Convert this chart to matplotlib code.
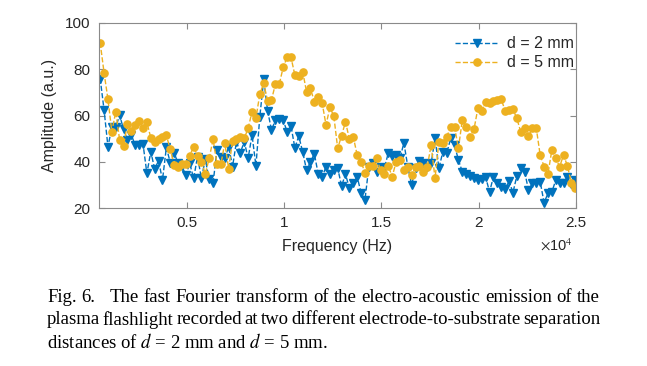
import numpy as np
import matplotlib
matplotlib.use("Agg")
import matplotlib.pyplot as plt

# ---------------- data ----------------
freq = 560 + 200 * np.arange(123)  # FFT bin frequencies (Hz)

amp_d2 = [76, 62.4, 46.5, 54.9, 54.9, 60.2, 54, 49.4, 51.6, 47.2,
          47.2, 47.7, 35, 44.3, 36.9, 40.5, 32, 46.2, 39.6, 43.9,
          39.3, 38, 34.3, 39.3, 32.8, 42.2, 32.8, 41, 32.4, 30.9,
          45.1, 42.2, 41.5, 46.5, 37.9, 48.7, 43.9, 48.7, 41.5, 51.6,
          38.2, 59.5, 75.6, 62.1, 53.7, 58, 58.4, 58, 53, 55.5,
          46, 51.1, 44.3, 36.4, 40, 43.4, 34.7, 33.3, 37.9, 34.7,
          36.4, 37.2, 29.5, 34.7, 28.5, 30.7, 33.5, 26.6, 23.5, 37.9,
          39.6, 35.7, 37.9, 37.2, 43.9, 42.5, 42.9, 41.5, 48.2, 37.9,
          30, 37.2, 40.5, 39.3, 37.9, 39.3, 50.1, 37.2, 44.3, 43.6,
          50.1, 47.2, 40.8, 35.7, 34.7, 33.8, 32.8, 32, 32.4, 33.3,
          27, 33.5, 30.7, 29.2, 28.1, 31.8, 26.6, 33.8, 37.2, 35.7,
          27.8, 30.7, 30.9, 31.4, 22.3, 26.3, 27, 32, 30.7, 30.9,
          33.5, 30.4, 32]

amp_d5 = [91.5, 78.5, 67, 53, 61.6, 49.4, 47, 56.3, 53.3, 55.8,
          57.8, 54.5, 57, 50.4, 48.7, 49.7, 50.6, 51.4, 45.4, 38.6,
          37.9, 39, 39, 42.6, 46.5, 42.6, 40, 34.7, 41.5, 49.7,
          39, 39, 48, 37, 49.1, 49.8, 50.6, 50.1, 54.5, 61.6,
          58.8, 69.3, 73.9, 66.4, 66.7, 73.6, 73.6, 80.8, 85.2, 85.2,
          77.5, 77.1, 79, 70.3, 71.7, 66, 67.9, 65.5, 55.9, 63.5,
          59.8, 45.8, 51.3, 57.3, 49.8, 50.8, 42.9, 40, 35.3, 38.2,
          38.2, 41.5, 36.4, 34.7, 38.2, 33.5, 40, 40.8, 36.4, 37.9,
          34.3, 37.6, 38.2, 35.7, 37.9, 47.2, 32.8, 48.7, 48.2, 50.6,
          55.2, 55.2, 45.8, 58, 55.2, 50.8, 54, 63.1, 62.1, 66,
          65.3, 66.4, 66.7, 67, 62.1, 62.4, 62.7, 58.8, 53, 54.5,
          51.1, 54.5, 54.5, 42.9, 37.9, 34.7, 45.1, 41.5, 37.9, 42.9,
          38.2, 30.9, 28.5]

series_labels = ["d = 2 mm", "d = 5 mm"]
x_ticks = [5000, 10000, 15000, 20000, 25000]
x_ticklabels = ["0.5", "1", "1.5", "2", "2.5"]
y_ticks = [20, 40, 60, 80, 100]

caption_line1 = "Fig. 6.   The fast Fourier transform of the electro-acoustic emission of the"
caption_line2 = "plasma flashlight recorded at two different electrode-to-substrate separation"
caption_line3 = "distances of $d$ = 2 mm and $d$ = 5 mm."

# ---------------- figure ----------------
W, H = 647, 366
fig = plt.figure(figsize=(W / 100, H / 100), dpi=100)
plt.rcParams['mathtext.fontset'] = 'stix'

blue = '#0072BD'
orange = '#EDB120'
frame = '#8a8a8a'
txt = '#262626'
sans = 'Liberation Sans'

ax = fig.add_axes([99 / W, 1 - 208 / H, 477 / W, 185 / H])
ax.plot(freq, amp_d2, '--', color=blue, lw=1.0, marker='v', ms=5.8,
        mfc=blue, mec=blue, label=series_labels[0])
ax.plot(freq, amp_d5, '--', color=orange, lw=1.0, marker='o', ms=5.2,
        mfc=orange, mec=orange, label=series_labels[1])

ax.set_xlim(500, 25000)
ax.set_ylim(20, 100)
ax.set_xticks(x_ticks)
ax.set_xticklabels(x_ticklabels)
ax.set_yticks(y_ticks)
for s in ax.spines.values():
    s.set_color(frame)
    s.set_linewidth(0.8)
ax.tick_params(direction='in', length=4, width=0.8, color=frame,
               top=True, right=True, labelsize=11, labelcolor=txt, pad=6)
for lab in ax.get_xticklabels() + ax.get_yticklabels():
    lab.set_fontfamily(sans)

ax.set_xlabel("Frequency (Hz)", fontsize=11.5, family=sans, color=txt, labelpad=6)
ax.set_ylabel("Amplitude (a.u.)", fontsize=11.5, family=sans, color=txt, labelpad=6)

fig.text(540 / W, 1 - 245 / H, r"$\times$10$^4$", fontsize=10.5, family=sans,
         color=txt, ha='left', va='center')

leg = ax.legend(loc='upper right', frameon=False,
                prop={'family': sans, 'size': 11.5}, handlelength=2.7,
                handletextpad=0.5, borderaxespad=0.0, borderpad=0.3,
                bbox_to_anchor=(1.005, 0.955), labelspacing=0.25)
for t in leg.get_texts():
    t.set_color(txt)

# ---------------- caption (justified) ----------------
r = fig.canvas.get_renderer()
serif = 'Liberation Serif'

def measure(s, fs):
    t = fig.text(0, 0, s, fontsize=fs, family=serif)
    w = t.get_window_extent(r).width
    t.remove()
    return w

# choose font size so line 3 width matches ~280 px
fs = 13.0
w3 = measure(caption_line3, fs)
fs = fs * 280.0 / w3

def justify(line, y_px, x0=47, x1=600):
    words = line.split(' ')
    tokens = []
    extra = []
    for w in words:
        if w == '':
            if extra:
                extra[-1] += 1
            continue
        tokens.append(w)
        extra.append(0)
    widths = [measure(w, fs) for w in tokens]
    weights = [1 + e for e in extra[:-1]]
    gap = ((x1 - x0) - sum(widths)) / sum(weights)
    pos = x0
    for i, (w, wd) in enumerate(zip(tokens, widths)):
        fig.text(pos / W, 1 - y_px / H, w, fontsize=fs, family=serif,
                 color='black', va='center', ha='left')
        if i < len(weights):
            pos += wd + gap * weights[i]

justify(caption_line1, 298)
justify(caption_line2, 320)
fig.text(47 / W, 1 - 342 / H, caption_line3, fontsize=fs, family=serif,
         color='black', va='center', ha='left')

fig.savefig("out.png", dpi=100)
